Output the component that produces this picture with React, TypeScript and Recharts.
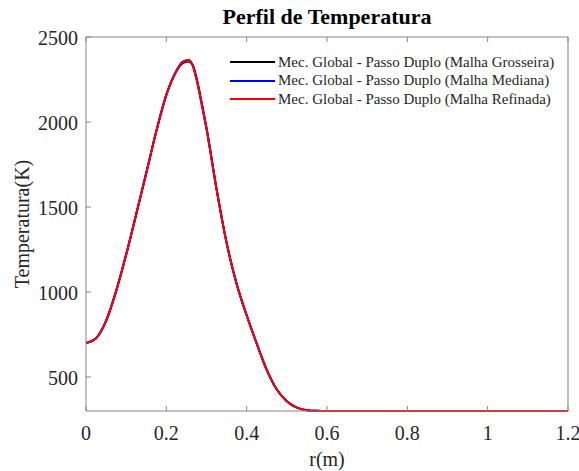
import React from "react";
import { LineChart, Line, XAxis, YAxis, Legend } from "recharts";

// raio (m)
const R_VALUES = [
  0, 0.025, 0.05, 0.075, 0.1, 0.125, 0.15, 0.175, 0.2, 0.225, 0.24, 0.255, 0.265, 0.275, 0.2875,
  0.3, 0.325, 0.35, 0.375, 0.4, 0.425, 0.45, 0.475, 0.5, 0.525, 0.55, 0.575, 0.6, 0.7, 0.8, 0.9,
  1.0, 1.1, 1.2,
];

// temperatura (K) para cada malha
const T_GROSSEIRA = [
  700, 728, 830, 1005, 1220, 1458, 1700, 1945, 2158, 2298, 2345, 2356, 2338, 2262, 2120,
  1966, 1608, 1291, 1048, 863, 697, 542, 426, 358, 320, 305, 301, 300, 300, 300, 300,
  300, 300, 300,
];
const T_MEDIANA = [
  700, 728, 830, 1005, 1220, 1458, 1700, 1945, 2161, 2302, 2354, 2365, 2337, 2255, 2112,
  1961, 1604, 1289, 1047, 863, 697, 542, 426, 358, 320, 305, 301, 300, 300, 300, 300,
  300, 300, 300,
];
const T_REFINADA = [
  700, 728, 830, 1005, 1220, 1458, 1700, 1945, 2160, 2300, 2350, 2361, 2335, 2251, 2110,
  1960, 1604, 1289, 1047, 863, 697, 542, 426, 358, 320, 305, 301, 300, 300, 300, 300,
  300, 300, 300,
];

const X_TICKS = [0, 0.2, 0.4, 0.6, 0.8, 1, 1.2];
const Y_TICKS = [500, 1000, 1500, 2000, 2500];

const SERIES = [
  { key: "grosseira", name: "Mec. Global - Passo Duplo (Malha Grosseira)", color: "#000000" },
  { key: "mediana", name: "Mec. Global - Passo Duplo (Malha Mediana)", color: "#0000ff" },
  { key: "refinada", name: "Mec. Global - Passo Duplo (Malha Refinada)", color: "#ff0000" },
];

const data = R_VALUES.map((r, i) => ({
  r,
  grosseira: T_GROSSEIRA[i],
  mediana: T_MEDIANA[i],
  refinada: T_REFINADA[i],
}));

const W = 579;
const H = 471;
const PLOT_LEFT = 86;
const PLOT_RIGHT = 568;
const PLOT_TOP = 37;
const PLOT_BOTTOM = 411;
const AXIS = "#858585";
const TEXT = "#262626";
const FONT = "'Liberation Serif', 'Times New Roman', serif";

const BottomTick = (props: any) => {
  const { x, payload } = props;
  return (
    <g>
      <line x1={x} x2={x} y1={PLOT_BOTTOM} y2={PLOT_BOTTOM - 5} stroke={AXIS} />
      <text x={x} y={440} textAnchor="middle" fill={TEXT} fontSize={20} fontFamily={FONT}>
        {String(payload.value)}
      </text>
    </g>
  );
};

const TopTick = (props: any) => {
  const { x } = props;
  return <line x1={x} x2={x} y1={PLOT_TOP} y2={PLOT_TOP + 5} stroke={AXIS} />;
};

const LeftTick = (props: any) => {
  const { y, payload } = props;
  return (
    <g>
      <line x1={PLOT_LEFT} x2={PLOT_LEFT + 5} y1={y} y2={y} stroke={AXIS} />
      <text x={78} y={y + 7.5} textAnchor="end" fill={TEXT} fontSize={20} fontFamily={FONT}>
        {payload.value}
      </text>
    </g>
  );
};

const RightTick = (props: any) => {
  const { y } = props;
  return <line x1={PLOT_RIGHT} x2={PLOT_RIGHT - 5} y1={y} y2={y} stroke={AXIS} />;
};

const renderLegend = (props: any) => {
  const items = props.payload && props.payload.length ? props.payload : SERIES.map((s) => ({ value: s.name, color: s.color }));
  return (
    <div style={{ fontFamily: FONT, fontSize: 15, color: TEXT }}>
      {items.map((it: any) => (
        <div key={it.value} style={{ display: "flex", alignItems: "center", height: 18.5, whiteSpace: "nowrap" }}>
          <span style={{ display: "inline-block", width: 45, height: 2, background: it.color, marginRight: 3 }} />
          <span>{it.value}</span>
        </div>
      ))}
    </div>
  );
};

export default function App() {
  return (
    <div style={{ position: "absolute", left: 0, top: 0, width: W, height: H, background: "#fff" }}>
      <div
        style={{
          position: "absolute",
          left: PLOT_LEFT,
          width: PLOT_RIGHT - PLOT_LEFT,
          top: 4,
          textAlign: "center",
          fontFamily: FONT,
          fontWeight: "bold",
          fontSize: 22,
          color: "#000",
        }}
      >
        Perfil de Temperatura
      </div>
      <LineChart width={W} height={H} data={data} margin={{ top: 36, right: 10, left: 0, bottom: 0 }}>
        <XAxis
          xAxisId="bottom"
          dataKey="r"
          type="number"
          domain={[0, 1.2]}
          ticks={X_TICKS}
          height={60}
          stroke={AXIS}
          tickLine={false}
          tick={BottomTick}
          interval={0}
          label={{
            content: () => (
              <text x={(PLOT_LEFT + PLOT_RIGHT) / 2} y={466} textAnchor="middle" fill={TEXT} fontSize={20} fontFamily={FONT}>
                r(m)
              </text>
            ),
          }}
        />
        <XAxis
          xAxisId="top"
          orientation="top"
          dataKey="r"
          type="number"
          domain={[0, 1.2]}
          ticks={X_TICKS}
          height={1}
          stroke={AXIS}
          tickLine={false}
          tick={TopTick}
          interval={0}
        />
        <YAxis
          yAxisId="left"
          type="number"
          domain={[300, 2500]}
          ticks={Y_TICKS}
          width={86}
          stroke={AXIS}
          tickLine={false}
          tick={LeftTick}
          interval={0}
          label={{
            content: () => (
              <text
                x={22}
                y={(PLOT_TOP + PLOT_BOTTOM) / 2}
                transform={`rotate(-90 22 ${(PLOT_TOP + PLOT_BOTTOM) / 2})`}
                textAnchor="middle"
                dominantBaseline="central"
                fill={TEXT}
                fontSize={20}
                fontFamily={FONT}
              >
                Temperatura(K)
              </text>
            ),
          }}
        />
        <YAxis
          yAxisId="right"
          orientation="right"
          type="number"
          domain={[300, 2500]}
          ticks={Y_TICKS}
          width={1}
          stroke={AXIS}
          tickLine={false}
          tick={RightTick}
          interval={0}
        />
        <Legend
          content={renderLegend}
          layout="vertical"
          align="center"
          verticalAlign="middle"
          wrapperStyle={{ position: "absolute", top: 53, left: 230, width: 340 }}
        />
        {SERIES.map((s) => (
          <Line
            key={s.key}
            xAxisId="bottom"
            yAxisId="left"
            type="monotone"
            dataKey={s.key}
            name={s.name}
            stroke={s.color}
            strokeWidth={2}
            dot={false}
            isAnimationActive={false}
          />
        ))}
      </LineChart>
    </div>
  );
}
